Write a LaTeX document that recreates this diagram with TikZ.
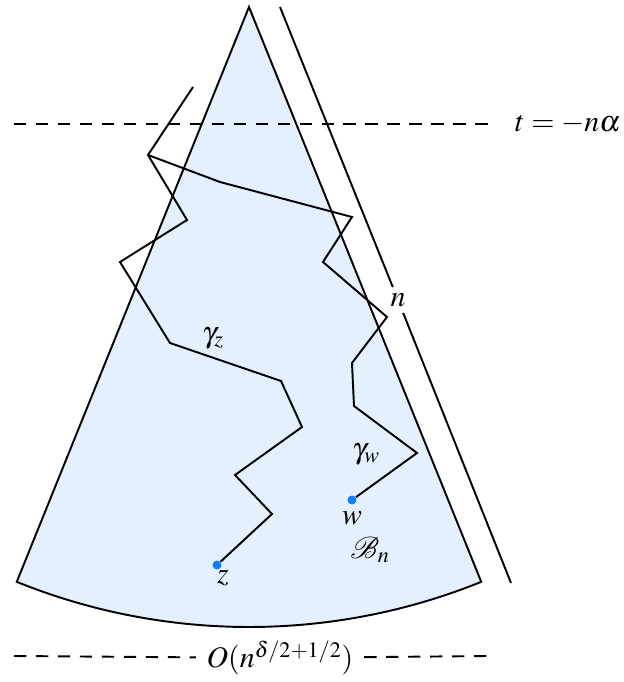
\documentclass[tikz,border=0pt]{standalone}
\usepackage{mathptmx}
\usepackage{mathrsfs}
\definecolor{conefill}{RGB}{228,240,254}
\definecolor{dotblue}{RGB}{10,128,255}
\begin{document}
\begin{tikzpicture}[
  edge/.style={line width=1.1pt},
  walk/.style={line width=1.1pt},
  dashln/.style={line width=1.1pt, dash pattern=on 7pt off 5.5pt},
  lbl/.style={font=\fontsize{17}{20}\selectfont},
  vdot/.style={circle, fill=dotblue, inner sep=0pt, minimum size=0.18cm}
]
\useasboundingbox (0,0) rectangle (12.48,13.64);
\coordinate (apex) at (4.98,13.5);
\filldraw[edge, fill=conefill] (apex) -- ++(248:12.4)
  arc[start angle=248, end angle=292, radius=12.4] -- cycle;
\coordinate (rtop) at (5.6,13.5);
\coordinate (rbot) at (10.22,1.98);
\node[lbl] (nlab) at (7.96,7.64) {$n$};
\draw[edge] (rtop) -- (nlab);
\draw[edge] (nlab) -- (rbot);
\coordinate (tl) at (0.28,11.16);
\node[lbl, anchor=west] (tlab) at (10.18,11.16) {$t=-n\alpha$};
\draw[dashln, shorten >=8pt] (tl) -- (tlab);
\coordinate (bl) at (0.28,0.52);
\coordinate (br) at (9.74,0.52);
\node[lbl, inner sep=6pt] (olab) at (5.6,0.48) {$O(n^{\delta/2+1/2})$};
\draw[dashln] (bl) -- (olab) -- (br);
\coordinate (j) at (2.96,10.54);
\node[vdot] (z) at (4.34,2.34) {};
\node[vdot] (w) at (7.04,3.64) {};
\draw[walk] (z) -- (5.44,3.36) -- (4.70,4.14) -- (6.04,5.10) -- (5.62,6.02)
  -- (3.40,6.78) -- (2.40,8.40) -- (3.74,9.24) -- (j) -- (3.86,11.90);
\draw[walk] (w) -- (8.34,4.58) -- (7.08,5.52) -- (7.04,6.38) -- (7.74,7.30)
  -- (6.46,8.40) -- (7.04,9.30) -- (4.40,10.00) -- (j);
\node[lbl] (gz) at (4.26,6.88) {$\gamma_z$};
\node[lbl] (gw) at (7.32,4.56) {$\gamma_w$};
\node[lbl] (zlab) at (4.46,2.08) {$z$};
\node[lbl] (wlab) at (7.04,3.28) {$w$};
\node[lbl] (blab) at (7.40,2.64) {$\mathscr{B}_n$};
\end{tikzpicture}
\end{document}
